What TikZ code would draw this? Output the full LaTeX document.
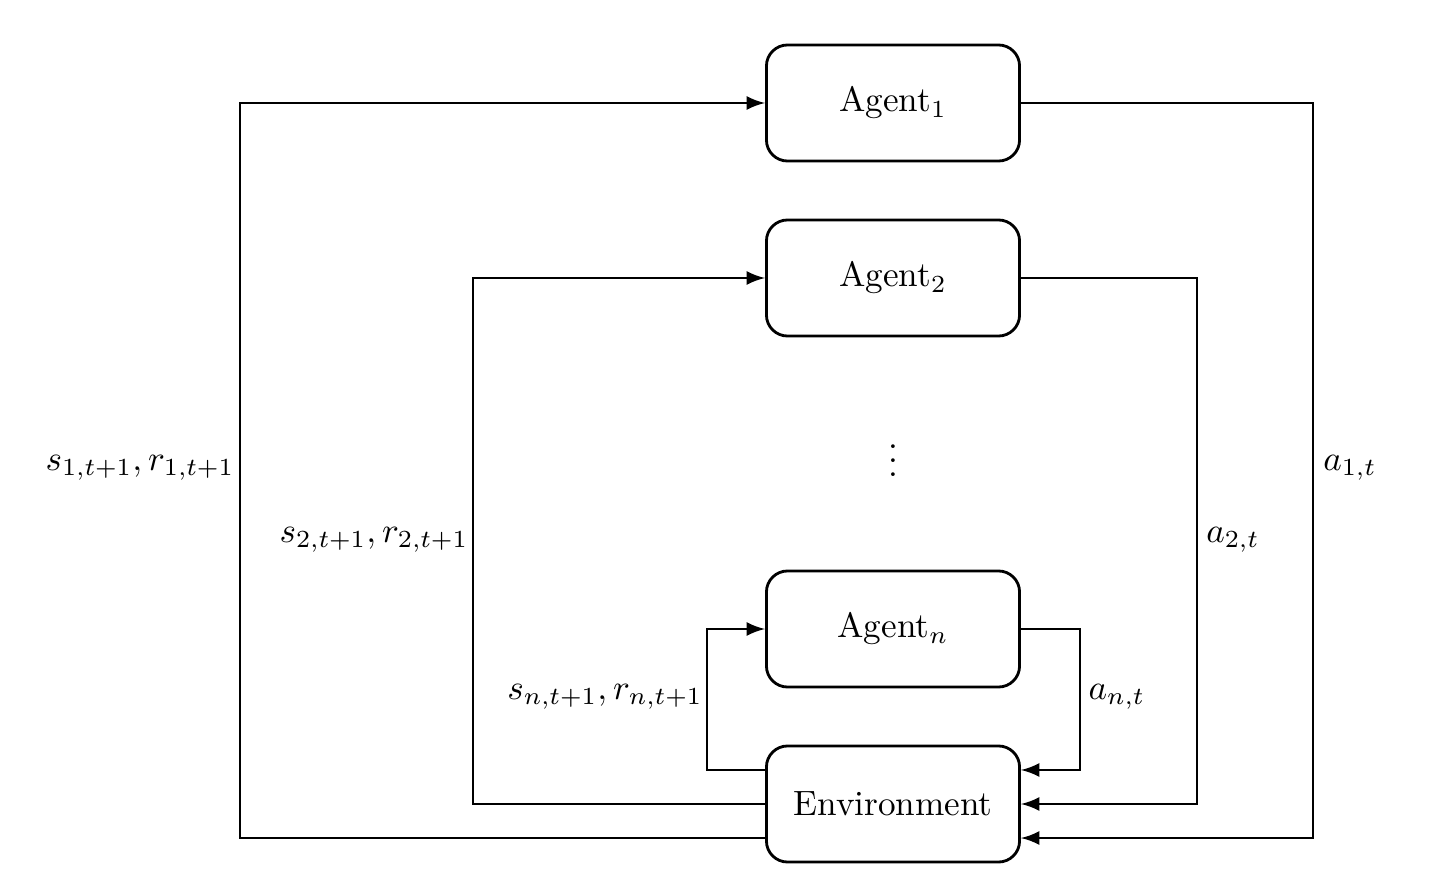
\documentclass[tikz,border=0pt]{standalone}
\usetikzlibrary{positioning}
\begin{document}
\begin{tikzpicture}[%
    >=latex,
    x=0.01cm, y=-0.01cm,
    box/.style={draw, thick, rounded corners=6pt, minimum width=2.53cm, minimum height=1.16cm},
    link/.style={thick},
  ]
    \useasboundingbox (0,0) rectangle (1442,888);
    \node[box] (A1) at (893,103) {Agent$_1$};
    \node[box] (A2) at (893,278) {Agent$_2$};
    \node[box] (An) at (893,629) {Agent$_n$};
    \node[box] (E)  at (893,804) {Environment};
    \node at (893,450) {$\vdots$};

    % ports on the environment
    \coordinate (e1) at ([yshift=-0.34cm]E.east);
    \coordinate (e2) at (E.east);
    \coordinate (en) at ([yshift=0.34cm]E.east);
    \coordinate (w1) at ([yshift=-0.34cm]E.west);
    \coordinate (w2) at (E.west);
    \coordinate (wn) at ([yshift=0.34cm]E.west);

    % actions, right side
    \coordinate (r1) at (1313,0);
    \coordinate (r2) at (1197,0);
    \coordinate (rn) at (1080,0);
    \draw[link,->] (A1.east) -| (r1 |- e1) -- (e1);
    \draw[link,->] (A2.east) -| (r2 |- e2) -- (e2);
    \draw[link,->] (An.east) -| (rn |- en) -- (en);
    \node at (1350,468) {$a_{1,t}$};
    \node at (1233,540) {$a_{2,t}$};
    \node at (1117,697) {$a_{n,t}$};

    % observations, left side
    \coordinate (l1) at (240,0);
    \coordinate (l2) at (473,0);
    \coordinate (ln) at (707,0);
    \draw[link,->] (w1) -| (l1 |- A1.west) -- (A1.west);
    \draw[link,->] (w2) -| (l2 |- A2.west) -- (A2.west);
    \draw[link,->] (wn) -| (ln |- An.west) -- (An.west);
    \node at (140,468) {$s_{1,t+1}, r_{1,t+1}$};
    \node at (374,540) {$s_{2,t+1}, r_{2,t+1}$};
    \node at (605,697) {$s_{n,t+1}, r_{n,t+1}$};
\end{tikzpicture}
\end{document}
